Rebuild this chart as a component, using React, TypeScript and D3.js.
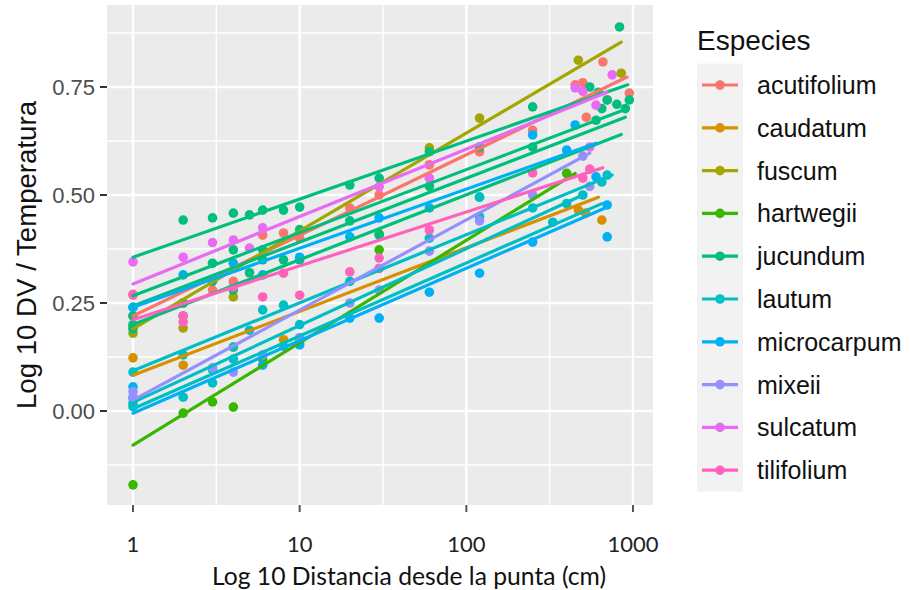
import React from "react";
import * as d3 from "d3";

// ---------- data ----------
const species = ["acutifolium", "caudatum", "fuscum", "hartwegii", "jucundum", "lautum", "microcarpum", "mixeii", "sulcatum", "tilifolium"];
const colors = ["#F8766D", "#D89000", "#A3A500", "#39B600", "#00BF7D", "#00BFC4", "#00B0F6", "#9590FF", "#E76BF3", "#FF62BC"];

// points: [distance (cm), log10 DV / temperature]
const acutifoliumPts = [[1,0.27],[1,0.22],[2,0.25],[3,0.28],[4,0.30],[6,0.407],[8,0.412],[10,0.40],[20,0.47],[30,0.50],[60,0.57],[120,0.60],[250,0.65],[450,0.755],[500,0.76],[525,0.68],[660,0.808],[700,0.72],[950,0.736]];
const caudatumPts = [[1,0.123],[2,0.106],[4,0.148],[8,0.165],[470,0.465],[520,0.458],[650,0.442]];
const fuscumPts = [[1,0.18],[1,0.195],[2,0.192],[4,0.264],[60,0.609],[120,0.678],[470,0.812],[850,0.782]];
const hartwegiiPts = [[1,-0.171],[2,-0.005],[3,0.021],[4,0.009],[6,0.12],[10,0.16],[30,0.373],[30,0.41],[400,0.55]];
const jucundumPts = [[1,0.20],[1,0.22],[1,0.24],[1,0.19],[2,0.442],[2,0.22],[2,0.25],[3,0.447],[3,0.342],[3,0.30],[4,0.458],[4,0.373],[4,0.28],[5,0.454],[5,0.32],[6,0.465],[6,0.373],[6,0.35],[8,0.465],[8,0.35],[10,0.472],[10,0.35],[10,0.42],[20,0.523],[20,0.44],[30,0.539],[30,0.407],[60,0.60],[60,0.52],[120,0.495],[120,0.611],[250,0.704],[250,0.611],[550,0.75],[600,0.673],[620,0.738],[650,0.70],[700,0.72],[800,0.71],[830,0.889],[900,0.70],[950,0.72]];
const lautumPts = [[1,0.018],[1,0.03],[1,0.09],[1,0.01],[2,0.032],[2,0.13],[3,0.065],[3,0.095],[4,0.148],[4,0.12],[5,0.187],[6,0.234],[8,0.245],[8,0.15],[10,0.2],[20,0.3],[30,0.33],[60,0.40],[120,0.495],[120,0.45],[250,0.47],[330,0.437],[400,0.48],[500,0.50],[650,0.53],[700,0.546]];
const microcarpumPts = [[1,0.056],[1,0.24],[2,0.315],[4,0.342],[6,0.315],[6,0.106],[10,0.153],[10,0.356],[20,0.215],[20,0.403],[30,0.215],[30,0.447],[60,0.275],[60,0.47],[120,0.319],[250,0.391],[250,0.639],[400,0.604],[450,0.662],[600,0.542],[700,0.477],[700,0.403]];
const mixeiiPts = [[1,0.032],[1,0.045],[3,0.10],[4,0.09],[6,0.13],[10,0.17],[20,0.25],[30,0.28],[60,0.37],[120,0.44],[250,0.50],[500,0.59],[550,0.52]];
const sulcatumPts = [[1,0.345],[2,0.356],[3,0.39],[4,0.396],[5,0.377],[6,0.424],[30,0.519],[60,0.539],[450,0.748],[500,0.74],[550,0.611],[600,0.708],[750,0.778]];
const tilifoliumPts = [[1,0.268],[2,0.206],[2,0.22],[4,0.287],[6,0.264],[8,0.319],[10,0.268],[20,0.322],[30,0.354],[30,0.33],[60,0.419],[250,0.551],[500,0.539],[550,0.56]];

// fitted lines: [value at 1 cm, value at last distance, last distance]
const acutifoliumFit = [[0.22, 0.773, 920]];
const caudatumFit = [[0.083, 0.495, 620]];
const fuscumFit = [[0.19, 0.854, 850]];
const hartwegiiFit = [[-0.079, 0.55, 450]];
const jucundumFit = [[0.356, 0.755, 930], [0.267, 0.70, 930], [0.243, 0.68, 900], [0.20, 0.64, 850]];
const lautumFit = [[0.093, 0.546, 750], [0.02, 0.50, 500], [0.005, 0.48, 650]];
const microcarpumFit = [[-0.005, 0.47, 680], [0.24, 0.62, 600]];
const mixeiiFit = [[0.025, 0.597, 550]];
const sulcatumFit = [[0.294, 0.738, 700]];
const tilifoliumFit = [[0.211, 0.563, 660]];

const pointSets = [acutifoliumPts, caudatumPts, fuscumPts, hartwegiiPts, jucundumPts, lautumPts, microcarpumPts, mixeiiPts, sulcatumPts, tilifoliumPts];
const fitSets = [acutifoliumFit, caudatumFit, fuscumFit, hartwegiiFit, jucundumFit, lautumFit, microcarpumFit, mixeiiFit, sulcatumFit, tilifoliumFit];

const xTicks = [1, 10, 100, 1000];
const xTickLabels = ["1", "10", "100", "1000"];
const xMinor = [3.1623, 31.623, 316.23];
const yTicks = [0, 0.25, 0.5, 0.75];
const yTickLabels = ["0.00", "0.25", "0.50", "0.75"];
const yMinor = [-0.125, 0.125, 0.375, 0.625, 0.875];

const xTitle = "Log 10 Distancia desde la punta (cm)";
const yTitle = "Log 10 DV / Temperatura";
const legendTitle = "Especies";

// ---------- layout ----------
const W = 910, H = 590;
const P = { left: 107, right: 653, top: 5, bottom: 505 };
const x = d3.scaleLog().domain([1, 1000]).range([133, 633]);
const y = d3.scaleLinear().domain([0, 0.75]).range([411, 87]);
const line = d3.line<[number, number]>().x(d => x(d[0])).y(d => y(d[1]));

const ARIAL = "'Liberation Sans', Arial, sans-serif";
const CAL = "Lato, 'Open Sans', sans-serif";

export default function App() {
  const legendY = (i: number) => 85 + i * 42.8;
  return (
    <svg width={W} height={H} style={{ position: "absolute", left: 0, top: 0, background: "#fff" }}>
      <rect x={P.left} y={P.top} width={P.right - P.left} height={P.bottom - P.top} fill="#EBEBEB" />
      {yMinor.map(v => (
        <line key={"ym" + v} x1={P.left} x2={P.right} y1={y(v)} y2={y(v)} stroke="#fff" strokeWidth={1.4} />
      ))}
      {xMinor.map(v => (
        <line key={"xm" + v} x1={x(v)} x2={x(v)} y1={P.top} y2={P.bottom} stroke="#fff" strokeWidth={1.4} />
      ))}
      {yTicks.map(v => (
        <line key={"yM" + v} x1={P.left} x2={P.right} y1={y(v)} y2={y(v)} stroke="#fff" strokeWidth={2.4} />
      ))}
      {xTicks.map(v => (
        <line key={"xM" + v} x1={x(v)} x2={x(v)} y1={P.top} y2={P.bottom} stroke="#fff" strokeWidth={2.4} />
      ))}

      {/* points */}
      {pointSets.map((pts, si) => (
        <g key={"p" + si} fill={colors[si]}>
          {pts.map((d, j) => (
            <circle key={j} cx={x(d[0])} cy={y(d[1])} r={4.8} />
          ))}
        </g>
      ))}
      {/* fitted lines */}
      {fitSets.map((fits, si) => (
        <g key={"l" + si}>
          {fits.map((f, j) => (
            <path key={j} d={line([[1, f[0]], [f[2], f[1]]]) || ""} stroke={colors[si]} strokeWidth={3.2} fill="none" strokeLinecap="round" />
          ))}
        </g>
      ))}

      {/* y axis */}
      {yTicks.map((v, i) => (
        <g key={"yt" + v}>
          <line x1={P.left - 7} x2={P.left} y1={y(v)} y2={y(v)} stroke="#333" strokeWidth={2} />
          <text x={P.left - 12} y={y(v)} dy="0.36em" textAnchor="end" fontFamily={ARIAL} fontSize={22} fill="#4D4D4D">{yTickLabels[i]}</text>
        </g>
      ))}
      {/* x axis */}
      {xTicks.map((v, i) => (
        <g key={"xt" + v}>
          <line x1={x(v)} x2={x(v)} y1={P.bottom} y2={P.bottom + 7} stroke="#555" strokeWidth={2} />
          <text x={x(v)} y={552} textAnchor="middle" fontFamily={CAL} fontSize={22} fill="#222">{xTickLabels[i]}</text>
        </g>
      ))}
      <text x={409} y={585} textAnchor="middle" fontFamily={CAL} fontSize={25} fill="#111" textLength={394} lengthAdjust="spacingAndGlyphs">{xTitle}</text>
      <text transform={`translate(36,255) rotate(-90)`} textAnchor="middle" fontFamily={ARIAL} fontSize={27} fill="#111" textLength={308} lengthAdjust="spacingAndGlyphs">{yTitle}</text>

      {/* legend */}
      <text x={697} y={50} fontFamily={ARIAL} fontSize={28} fill="#111">{legendTitle}</text>
      {species.map((s, i) => (
        <g key={s}>
          <rect x={697} y={legendY(i) - 21.4} width={46} height={42.8} fill="#F2F2F2" />
          <line x1={702} x2={738} y1={legendY(i)} y2={legendY(i)} stroke={colors[i]} strokeWidth={3.2} />
          <circle cx={720} cy={legendY(i)} r={4.8} fill={colors[i]} />
          <text x={757} y={legendY(i)} dy="0.36em" fontFamily={ARIAL} fontSize={25} fill="#111">{s}</text>
        </g>
      ))}
    </svg>
  );
}
